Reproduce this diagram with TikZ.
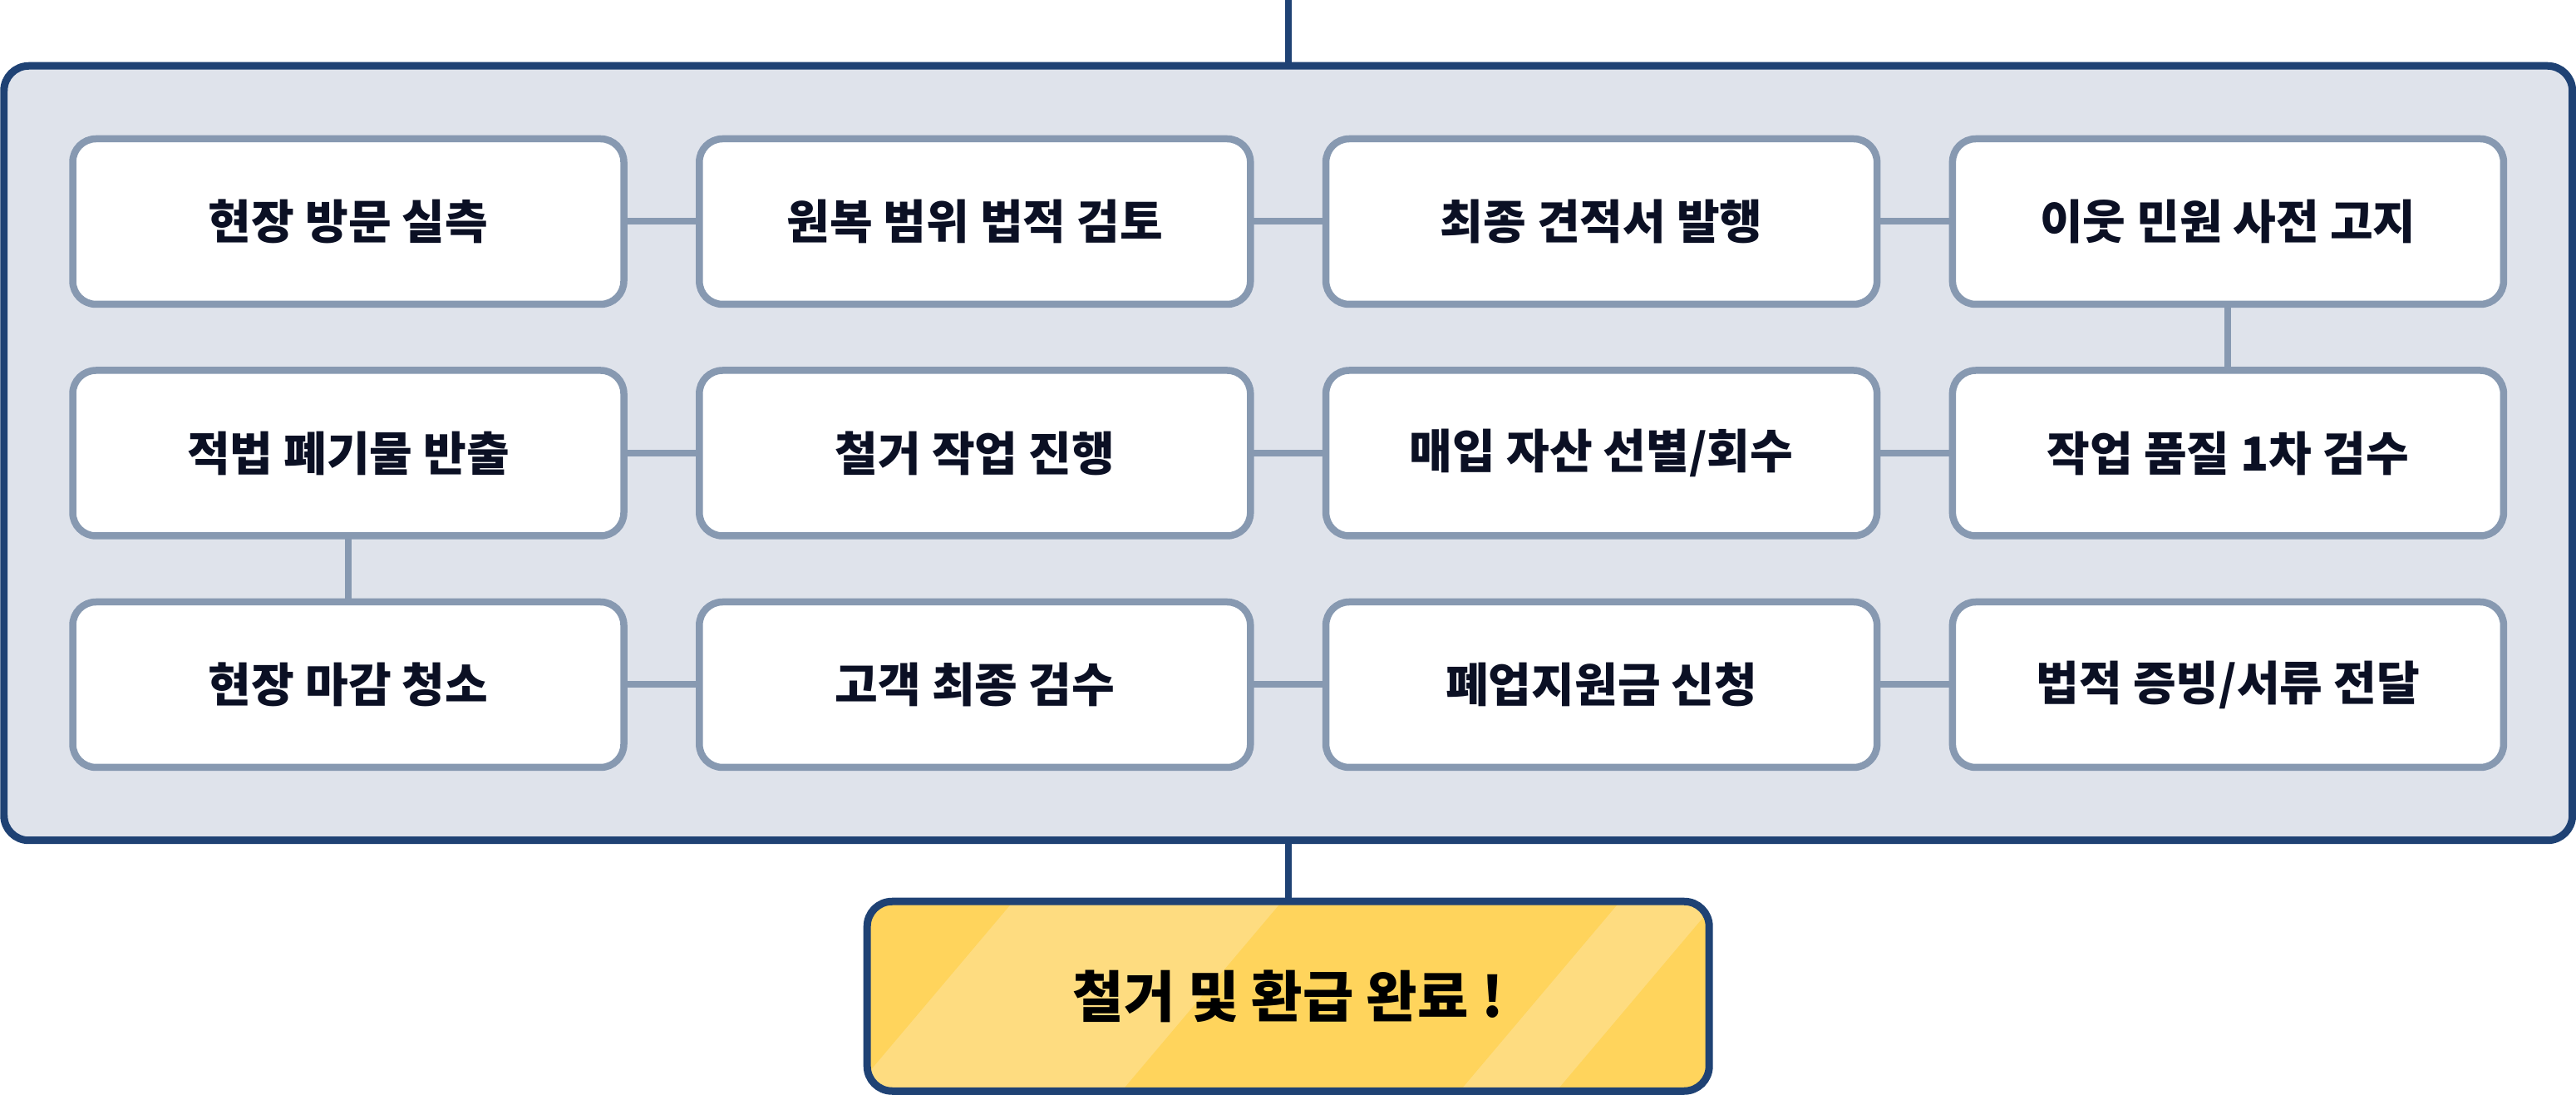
\documentclass[tikz,border=0pt]{standalone}
\usepackage{fontspec}
\setmainfont{Noto Sans CJK KR}
\usetikzlibrary{positioning, fit, backgrounds, calc}

\definecolor{navy}{HTML}{1F4274}
\definecolor{slate}{HTML}{8799B1}
\definecolor{panelbg}{HTML}{DFE3EB}
\definecolor{ink}{HTML}{0B1024}
\definecolor{gold}{HTML}{FFD45C}
\definecolor{goldlight}{HTML}{FEDC80}

\begin{document}
\begin{tikzpicture}[
    font=\bfseries,
    node distance=0.795cm and 0.908cm,
    stepbox/.style={
        draw=slate, fill=white,
        line width=0.085cm,
        rounded corners=0.28cm,
        outer sep=0pt,
        minimum width=6.63cm,
        minimum height=1.99cm,
        text=ink,
        font=\fontsize{16}{19}\selectfont\bfseries
    },
    panel/.style={
        draw=navy, fill=panelbg,
        line width=0.09cm,
        rounded corners=0.3cm,
        outer sep=0pt,
        inner xsep=0.8275cm,
        inner ysep=0.8775cm
    },
    finish/.style={
        draw=navy, fill=gold,
        line width=0.09cm,
        rounded corners=0.3cm,
        outer sep=0pt,
        minimum width=10.13cm,
        minimum height=2.28cm,
        font=\fontsize{19}{23}\selectfont\bfseries,
        path picture={
            \coordinate (nw) at (path picture bounding box.north west);
            \fill[goldlight] ($(nw)+(2.041,0.335)$) -- ($(nw)+(5.271,0.335)$)
                -- ($(nw)+(2.778,-2.615)$) -- ($(nw)+(-0.452,-2.615)$) -- cycle;
            \fill[goldlight] ($(nw)+(9.341,0.335)$) -- ($(nw)+(10.501,0.335)$)
                -- ($(nw)+(8.008,-2.615)$) -- ($(nw)+(6.848,-2.615)$) -- cycle;
        }
    },
    link/.style={draw=slate, line width=0.08cm},
    trunk/.style={draw=navy, line width=0.08cm}
]
\useasboundingbox (0,0) rectangle (30.99,-13.17);

% ===================== ROW 1 =====================
\node[stepbox] (visit) at (4.19,-2.665) {현장 방문 실측};
\node[stepbox, right=of visit] (legal) {원복 범위 법적 검토};
\node[stepbox, right=of legal] (quote) {최종 견적서 발행};
\node[stepbox, right=of quote] (notice) {이웃 민원 사전 고지};

% ===================== ROW 2 =====================
\node[stepbox, below=of notice] (qc) {작업 품질 1차 검수};
\node[stepbox, below=of quote] (assets) {매입 자산 선별/회수};
\node[stepbox, below=of legal] (demo) {철거 작업 진행};
\node[stepbox, below=of visit] (waste) {적법 폐기물 반출};

% ===================== ROW 3 =====================
\node[stepbox, below=of waste] (clean) {현장 마감 청소};
\node[stepbox, right=of clean] (check) {고객 최종 검수};
\node[stepbox, right=of check] (grant) {폐업지원금 신청};
\node[stepbox, right=of grant] (docs) {법적 증빙/서류 전달};

% ===================== PANEL + RESULT =====================
\begin{scope}[on background layer]
\node[panel, fit=(visit)(docs)] (board) {};
\end{scope}

\node[finish, below=0.735cm of board] (done) {철거 및 환급 완료 !};

\coordinate (entry) at (board.north |- 0,0);

% ===================== LINKS =====================
\draw[link] (visit) -- (legal);
\draw[link] (legal) -- (quote);
\draw[link] (quote) -- (notice);
\draw[link] (notice) -- (qc);
\draw[link] (qc) -- (assets);
\draw[link] (assets) -- (demo);
\draw[link] (demo) -- (waste);
\draw[link] (waste) -- (clean);
\draw[link] (clean) -- (check);
\draw[link] (check) -- (grant);
\draw[link] (grant) -- (docs);

\draw[trunk] (entry) -- (board.north);
\draw[trunk] (board.south) -- (done.north);

\end{tikzpicture}
\end{document}
